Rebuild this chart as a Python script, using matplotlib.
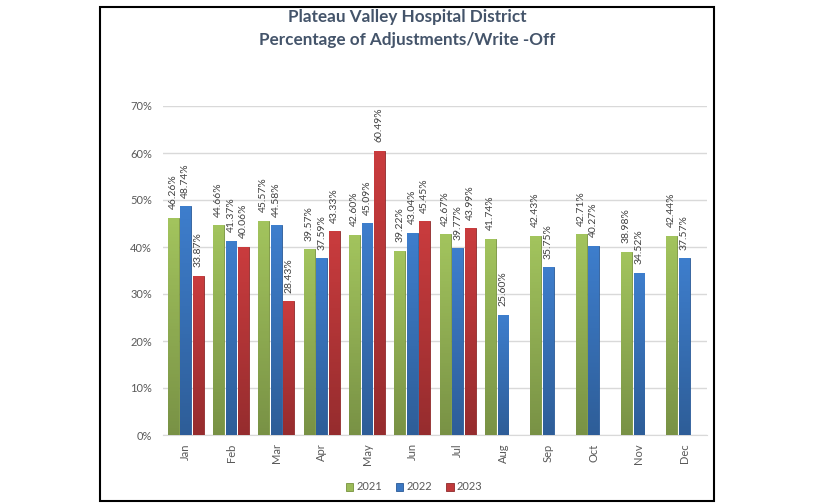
import matplotlib
matplotlib.use("Agg")
from matplotlib import pyplot as plt
from matplotlib.patches import Rectangle
from matplotlib.colors import to_rgb
import numpy as np

months = ['Jan', 'Feb', 'Mar', 'Apr', 'May', 'Jun', 'Jul', 'Aug', 'Sep', 'Oct', 'Nov', 'Dec']
y2021 = [46.26, 44.66, 45.57, 39.57, 42.60, 39.22, 42.67, 41.74, 42.43, 42.71, 38.98, 42.44]
y2022 = [48.74, 41.37, 44.58, 37.59, 45.09, 43.04, 39.77, 25.60, 35.75, 40.27, 34.52, 37.57]
y2023 = [33.87, 40.06, 28.43, 43.33, 60.49, 45.45, 43.99]
years = ['2021', '2022', '2023']
colors = ['#9BBB59', '#3B78C3', '#C0393B']
edges = ['#76923C', '#2A5A96', '#8E2A2B']

plt.rcParams['font.family'] = ['Lato', 'DejaVu Sans']

fig = plt.figure(figsize=(8.16, 5.04), dpi=100)
ax = fig.add_axes([163/816, 1-435/504, (707-163)/816, (435-106)/504])

x = np.arange(len(months))
width = 0.24
step = 0.275
for i, (vals, col, ec, yr) in enumerate(zip([y2021, y2022, y2023], colors, edges, years)):
    xs = x[:len(vals)] + (i - 1) * step
    bars = ax.bar(xs, vals, width, color=col, edgecolor=ec, linewidth=0.6, label=yr, zorder=3)
    # soft shading inside each bar: lighter near the top, darker at the base
    base = np.array(to_rgb(col))
    t = np.linspace(0, 1, 64)[:, None]
    grad = base * (0.78 + 0.27 * t)
    grad = np.clip(grad, 0, 1)[:, None, :].repeat(2, axis=1)
    for b, v in zip(bars, vals):
        im = ax.imshow(grad, extent=(b.get_x(), b.get_x() + b.get_width(), 0, v),
                       origin='lower', aspect='auto', zorder=3.5)
        im.set_clip_path(b)
        ax.annotate(f'{v:.2f}%', (b.get_x() + b.get_width()/2, v), xytext=(0, 6),
                    textcoords='offset points', rotation=90, ha='center', va='bottom',
                    fontsize=7.5, color='#404040', zorder=4)

ax.set_xlim(-0.5, 11.5)
ax.set_ylim(0, 70)
ax.set_yticks(range(0, 71, 10))
ax.set_yticklabels([f'{t}%' for t in range(0, 71, 10)])
ax.set_xticks(x)
ax.set_xticklabels(months, rotation=90)
ax.tick_params(axis='both', length=0, labelsize=8, colors='#595959')
ax.tick_params(axis='y', pad=8)
ax.tick_params(axis='x', pad=6)
ax.grid(axis='y', color='#D9D9D9', linewidth=1, zorder=0)
for s in ['top', 'right', 'left']:
    ax.spines[s].set_visible(False)
ax.spines['bottom'].set_color('#D9D9D9')

fig.text(407/816, 1-17/504, 'Plateau Valley Hospital District', ha='center', va='center',
         fontsize=12.3, fontweight='bold', color='#44546A')
fig.text(407/816, 1-40/504, 'Percentage of Adjustments/Write -Off', ha='center', va='center',
         fontsize=12.3, fontweight='bold', color='#44546A')

fig.legend(loc='center', bbox_to_anchor=(414/816, 1-487/504), ncol=3, frameon=False,
           fontsize=8, handlelength=0.7, handleheight=0.7, handletextpad=0.3,
           columnspacing=1.2, labelcolor='#595959')

fig.patches.append(Rectangle((100/816, 3/504), 614/816, 494/504, transform=fig.transFigure,
                             fill=False, edgecolor='black', linewidth=1.5))

fig.savefig('out.png', dpi=100)
